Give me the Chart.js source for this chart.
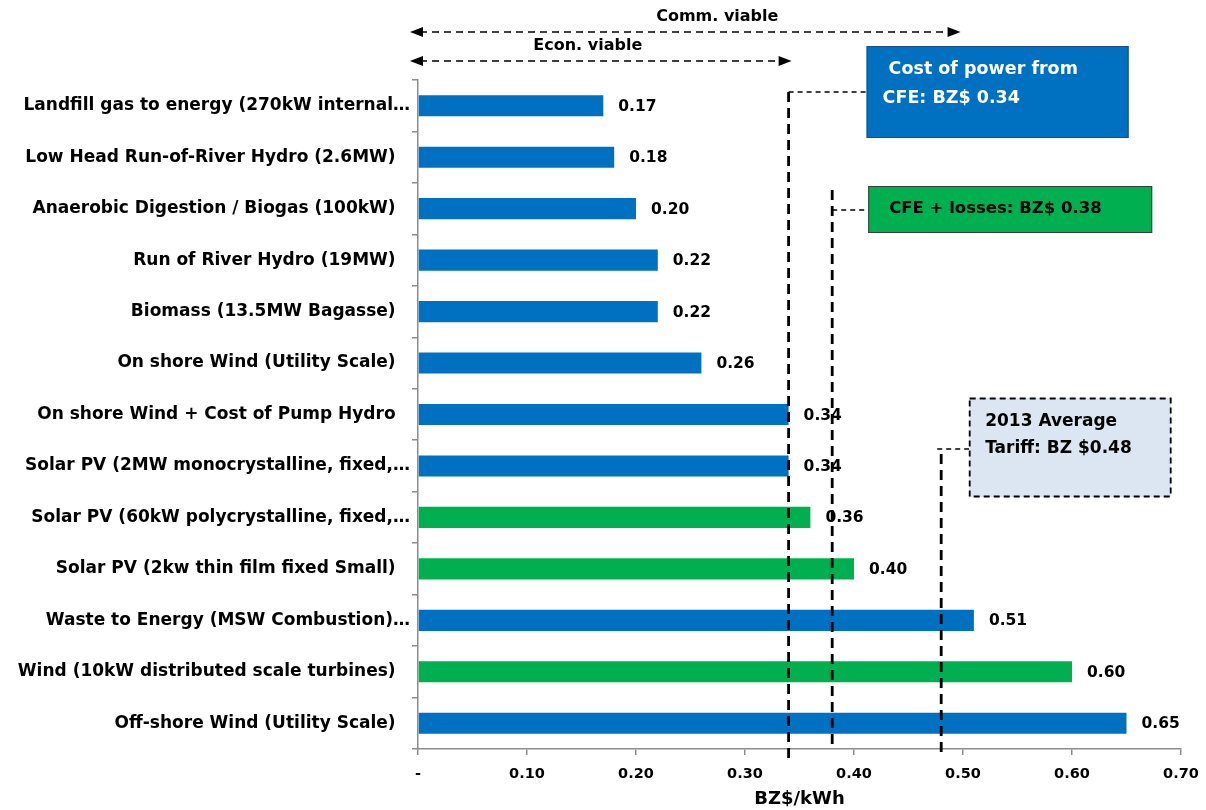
<!DOCTYPE html>
<html>
<head>
<meta charset="utf-8">
<script src="https://cdn.jsdelivr.net/npm/chart.js@4.4.1/dist/chart.umd.min.js"></script>
<style>
  html, body { margin: 0; padding: 0; background: #ffffff; }
  #wrap { width: 1206px; height: 810px; }
</style>
</head>
<body>
<div id="wrap"><canvas id="c" width="1206" height="810"></canvas></div>
<script>
// Levelised cost of generation options, BZ$/kWh
const categories = [
  'Landfill gas to energy (270kW internal\u2026',
  'Low Head Run-of-River Hydro (2.6MW)',
  'Anaerobic Digestion / Biogas (100kW)',
  'Run of River Hydro (19MW)',
  'Biomass (13.5MW Bagasse)',
  'On shore Wind (Utility Scale)',
  'On shore Wind + Cost of Pump Hydro',
  'Solar PV (2MW monocrystalline, fixed,\u2026',
  'Solar PV (60kW polycrystalline, fixed,\u2026',
  'Solar PV (2kw thin film fixed Small)',
  'Waste to Energy (MSW Combustion)\u2026',
  'Wind (10kW distributed scale turbines)',
  'Off-shore Wind (Utility Scale)'
];
const costs = [0.17, 0.18, 0.20, 0.22, 0.22, 0.26, 0.34, 0.34, 0.36, 0.40, 0.51, 0.60, 0.65];
// distributed / small-scale options
const smallScale = [false, false, false, false, false, false, false, false, true, true, false, true, false];
const xTickLabels = ['-', '0.10', '0.20', '0.30', '0.40', '0.50', '0.60', '0.70'];

// Reference price levels and their notes
const refValues = [0.34, 0.38, 0.48];
const refNotes = [
  ['Cost of power from', 'CFE: BZ$ 0.34'],
  ['CFE + losses: BZ$ 0.38'],
  ['2013 Average', 'Tariff: BZ $0.48']
];
// Viability ranges shown as arrows above the plot
const rangeLabels = ['Comm. viable', 'Econ. viable'];
const rangeEnds = [0.495, 0.34];

const FONT = '"DejaVu Sans", "Open Sans", sans-serif';
const BLUE = '#0070c0';
const GREEN = '#00b050';

function dashedLine(ctx, x1, y1, x2, y2, dash, width) {
  ctx.save();
  ctx.strokeStyle = '#000';
  ctx.lineWidth = width;
  ctx.setLineDash(dash);
  ctx.beginPath();
  ctx.moveTo(x1, y1);
  ctx.lineTo(x2, y2);
  ctx.stroke();
  ctx.restore();
}

function arrowHead(ctx, x, y, dir) {
  ctx.save();
  ctx.fillStyle = '#000';
  ctx.beginPath();
  ctx.moveTo(x, y);
  ctx.lineTo(x - dir * 13, y - 5);
  ctx.lineTo(x - dir * 13, y + 5);
  ctx.closePath();
  ctx.fill();
  ctx.restore();
}

const overlay = {
  id: 'overlay',
  afterDatasetsDraw(chart) {
    const ctx = chart.ctx;
    const xs = chart.scales.x;
    const meta = chart.getDatasetMeta(0);

    // value labels beside each bar
    ctx.save();
    ctx.font = 'bold 15.5px ' + FONT;
    ctx.fillStyle = '#000';
    ctx.textAlign = 'left';
    ctx.textBaseline = 'middle';
    meta.data.forEach((bar, i) => {
      ctx.fillText(costs[i].toFixed(2), bar.x + 15, bar.y + 1);
    });
    ctx.restore();

    // viability arrows
    const x0 = xs.getPixelForValue(0) - 8;
    const arrowY = [32, 61];
    const labelShift = [32, -13];
    ctx.save();
    ctx.font = 'bold 16px ' + FONT;
    ctx.fillStyle = '#000';
    ctx.textAlign = 'center';
    ctx.textBaseline = 'middle';
    rangeLabels.forEach((lbl, i) => {
      const x1 = xs.getPixelForValue(rangeEnds[i]) + 3;
      const y = arrowY[i];
      dashedLine(ctx, x0 + 10, y, x1 - 10, y, [7, 5], 1.6);
      arrowHead(ctx, x0, y, -1);
      arrowHead(ctx, x1, y, 1);
      ctx.fillText(lbl, (x0 + x1) / 2 + labelShift[i], y - 15);
    });
    ctx.restore();

    // reference level lines with their note boxes
    const lineTop = [92, 190, 454];
    const lineBottom = [758, 745, 758];
    const connY = [92, 210, 449];
    const boxes = [
      { dx: 78, y: 46, w: 262, h: 92, fill: BLUE, stroke: '#24477a', text: '#ffffff', dashed: false, tx: [22, 16], ty: [23, 52], size: 17.5 },
      { dx: 36, y: 186, w: 284, h: 47, fill: GREEN, stroke: '#3a3a3a', text: '#000000', dashed: false, tx: [21], ty: [23], size: 16.5 },
      { dx: 28, y: 398, w: 202, h: 99, fill: '#dce6f2', stroke: '#000000', text: '#000000', dashed: true, tx: [16, 16], ty: [24, 51], size: 17 }
    ];
    refValues.forEach((v, i) => {
      const x = xs.getPixelForValue(v);
      const b = boxes[i];
      const bx = x + b.dx;
      dashedLine(ctx, x, lineTop[i], x, lineBottom[i], [10, 6], 2.8);
      dashedLine(ctx, x - (i === 2 ? 4 : 0), connY[i], bx, connY[i], [5, 4], 1.3);
      ctx.save();
      ctx.fillStyle = b.fill;
      ctx.fillRect(bx, b.y, b.w, b.h);
      ctx.strokeStyle = b.stroke;
      ctx.lineWidth = b.dashed ? 1.8 : 1;
      if (b.dashed) ctx.setLineDash([6, 4]);
      ctx.strokeRect(bx + 0.5, b.y + 0.5, b.w - 1, b.h - 1);
      ctx.setLineDash([]);
      ctx.fillStyle = b.text;
      ctx.font = 'bold ' + b.size + 'px ' + FONT;
      ctx.textAlign = 'left';
      ctx.textBaseline = 'middle';
      refNotes[i].forEach((t, k) => ctx.fillText(t, bx + b.tx[k], b.y + b.ty[k]));
      ctx.restore();
    });
  }
};

new Chart(document.getElementById('c'), {
  type: 'bar',
  data: {
    labels: categories,
    datasets: [{
      data: costs,
      backgroundColor: smallScale.map(s => (s ? GREEN : BLUE)),
      borderWidth: 0,
      barPercentage: 0.41,
      categoryPercentage: 1
    }]
  },
  options: {
    indexAxis: 'y',
    responsive: false,
    devicePixelRatio: 1,
    animation: false,
    layout: { padding: { top: 80, right: 25, left: 0, bottom: 0 } },
    plugins: { legend: { display: false }, tooltip: { enabled: false } },
    scales: {
      x: {
        min: 0,
        max: 0.7,
        ticks: {
          stepSize: 0.1,
          color: '#000',
          font: { family: FONT, size: 14.5, weight: 'bold' },
          padding: 11,
          maxRotation: 0,
          callback: (v, i) => xTickLabels[i]
        },
        grid: { drawOnChartArea: false, drawTicks: true, tickLength: 6, color: '#8c8c8c', lineWidth: 1.5 },
        border: { color: '#8c8c8c', width: 1.5 },
        title: {
          display: true,
          text: 'BZ$/kWh',
          color: '#000',
          font: { family: FONT, size: 18, weight: 'bold' },
          padding: { top: 0, bottom: 0 }
        },
        afterFit: s => { s.height = 61; s.paddingLeft = 0; s.paddingRight = 0; }
      },
      y: {
        ticks: {
          color: '#000',
          font: { family: FONT, size: 17, weight: 'bold' },
          padding: 2,
          autoSkip: false,
          // full labels sit a little clear of the axis; truncated ones run up to it
          callback: (v, i) => categories[i].endsWith('\u2026') ? categories[i] : categories[i] + '\u2002 '
        },
        grid: { drawOnChartArea: false, drawTicks: true, tickLength: 6, offset: true, color: '#8c8c8c', lineWidth: 1.5 },
        border: { color: '#8c8c8c', width: 1.5 },
        afterFit: s => { s.width = 418; }
      }
    }
  },
  plugins: [overlay]
});
</script>
</body>
</html>
